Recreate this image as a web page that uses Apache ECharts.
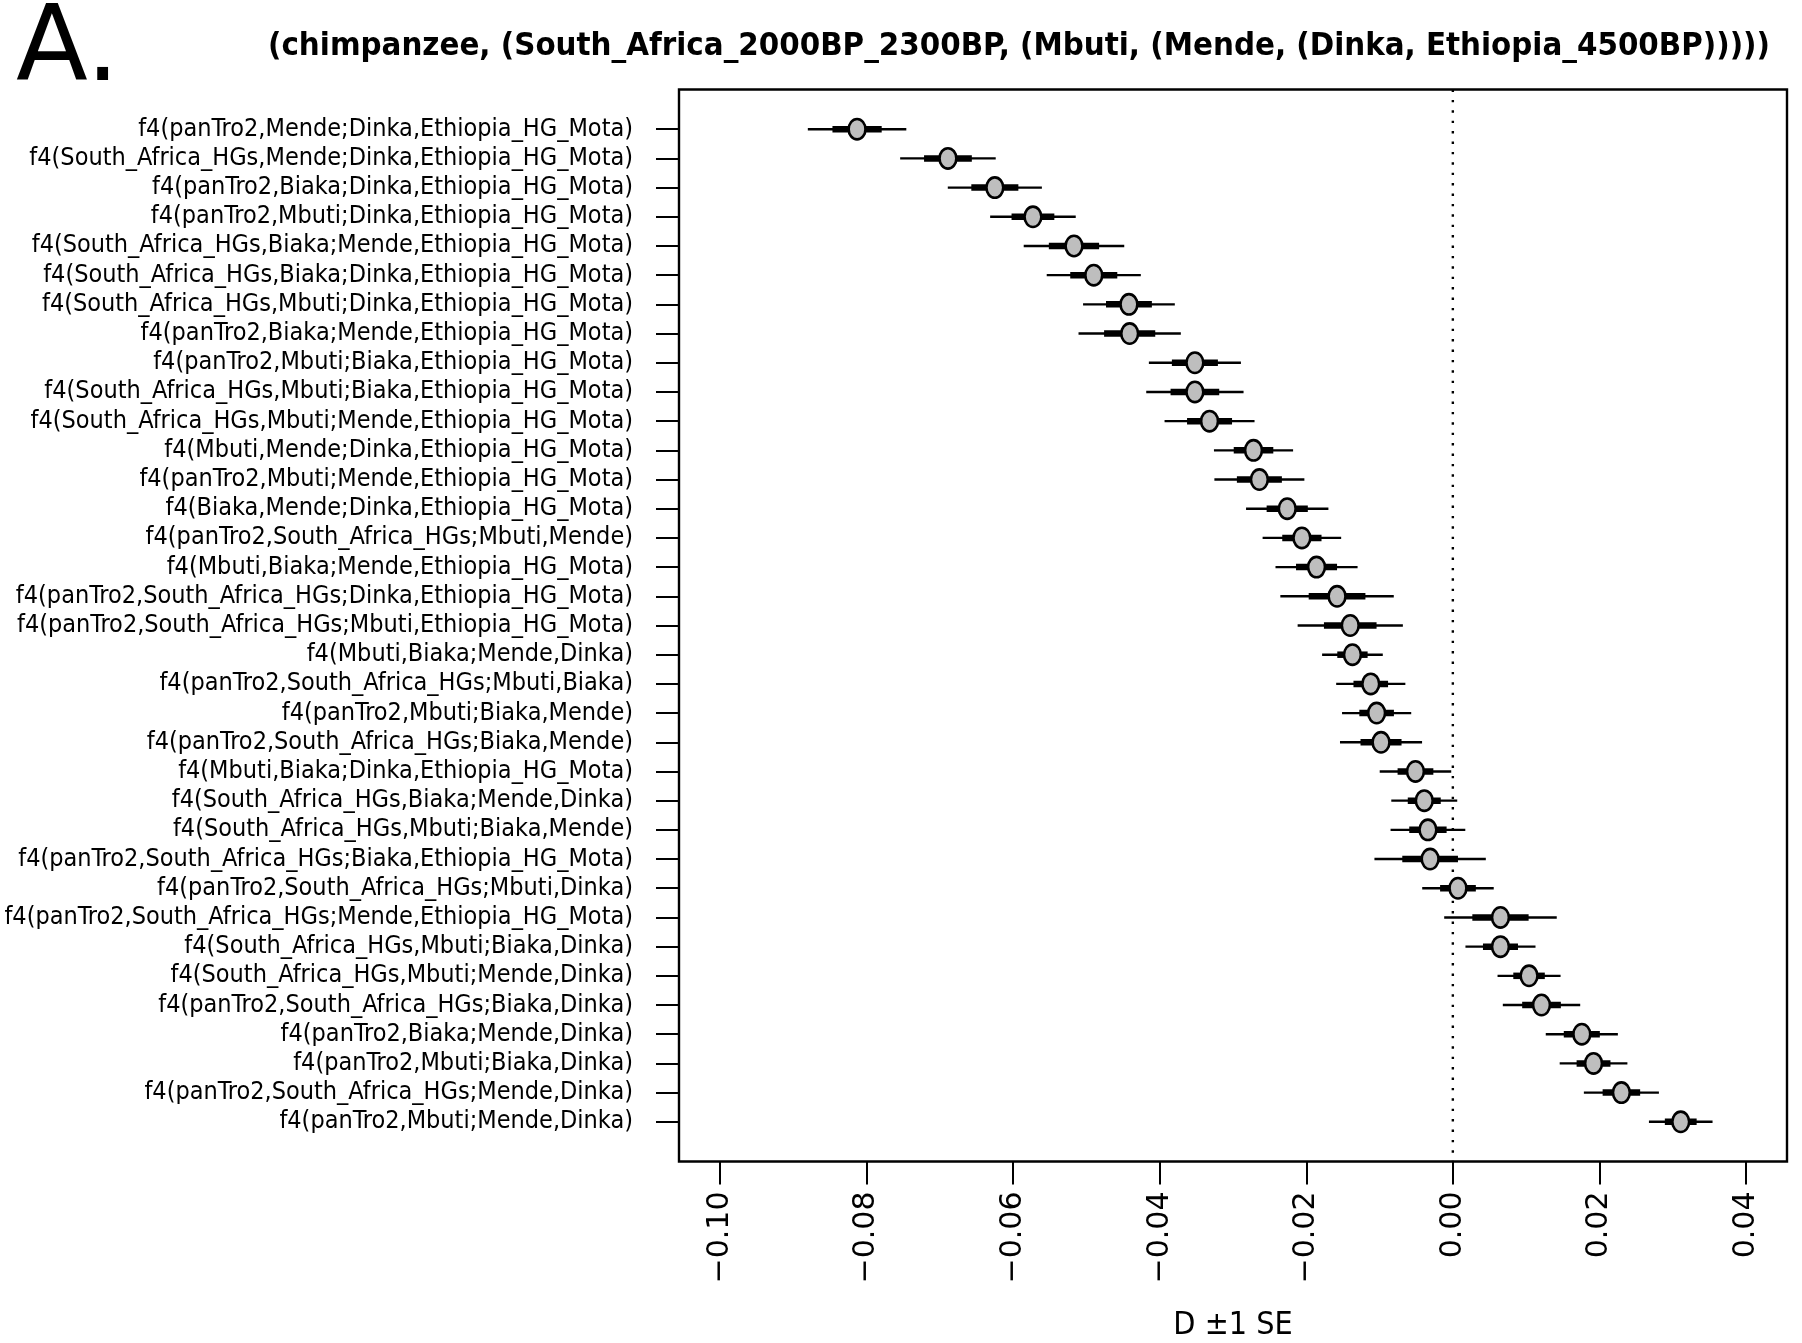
<!DOCTYPE html>
<html><head><meta charset="utf-8">
<script src="https://cdn.jsdelivr.net/npm/echarts@6/dist/echarts.min.js"></script>
<style>html,body{margin:0;padding:0;background:#fff}#c{width:1802px;height:1343px}</style>
</head><body><div id="c"></div>
<script>
const panelLabel = 'A.';
const treeTitle = '(chimpanzee, (South_Africa_2000BP_2300BP, (Mbuti, (Mende, (Dinka, Ethiopia_4500BP)))))';
const xAxisTitle = 'D \u00b11 SE';

const statLabels = [
  'f4(panTro2,Mende;Dinka,Ethiopia_HG_Mota)',
  'f4(South_Africa_HGs,Mende;Dinka,Ethiopia_HG_Mota)',
  'f4(panTro2,Biaka;Dinka,Ethiopia_HG_Mota)',
  'f4(panTro2,Mbuti;Dinka,Ethiopia_HG_Mota)',
  'f4(South_Africa_HGs,Biaka;Mende,Ethiopia_HG_Mota)',
  'f4(South_Africa_HGs,Biaka;Dinka,Ethiopia_HG_Mota)',
  'f4(South_Africa_HGs,Mbuti;Dinka,Ethiopia_HG_Mota)',
  'f4(panTro2,Biaka;Mende,Ethiopia_HG_Mota)',
  'f4(panTro2,Mbuti;Biaka,Ethiopia_HG_Mota)',
  'f4(South_Africa_HGs,Mbuti;Biaka,Ethiopia_HG_Mota)',
  'f4(South_Africa_HGs,Mbuti;Mende,Ethiopia_HG_Mota)',
  'f4(Mbuti,Mende;Dinka,Ethiopia_HG_Mota)',
  'f4(panTro2,Mbuti;Mende,Ethiopia_HG_Mota)',
  'f4(Biaka,Mende;Dinka,Ethiopia_HG_Mota)',
  'f4(panTro2,South_Africa_HGs;Mbuti,Mende)',
  'f4(Mbuti,Biaka;Mende,Ethiopia_HG_Mota)',
  'f4(panTro2,South_Africa_HGs;Dinka,Ethiopia_HG_Mota)',
  'f4(panTro2,South_Africa_HGs;Mbuti,Ethiopia_HG_Mota)',
  'f4(Mbuti,Biaka;Mende,Dinka)',
  'f4(panTro2,South_Africa_HGs;Mbuti,Biaka)',
  'f4(panTro2,Mbuti;Biaka,Mende)',
  'f4(panTro2,South_Africa_HGs;Biaka,Mende)',
  'f4(Mbuti,Biaka;Dinka,Ethiopia_HG_Mota)',
  'f4(South_Africa_HGs,Biaka;Mende,Dinka)',
  'f4(South_Africa_HGs,Mbuti;Biaka,Mende)',
  'f4(panTro2,South_Africa_HGs;Biaka,Ethiopia_HG_Mota)',
  'f4(panTro2,South_Africa_HGs;Mbuti,Dinka)',
  'f4(panTro2,South_Africa_HGs;Mende,Ethiopia_HG_Mota)',
  'f4(South_Africa_HGs,Mbuti;Biaka,Dinka)',
  'f4(South_Africa_HGs,Mbuti;Mende,Dinka)',
  'f4(panTro2,South_Africa_HGs;Biaka,Dinka)',
  'f4(panTro2,Biaka;Mende,Dinka)',
  'f4(panTro2,Mbuti;Biaka,Dinka)',
  'f4(panTro2,South_Africa_HGs;Mende,Dinka)',
  'f4(panTro2,Mbuti;Mende,Dinka)'
];

const dValues = [
  -0.0813, -0.0689, -0.0625, -0.0573, -0.0517, -0.0490, -0.0442, -0.0441,
  -0.0352, -0.0352, -0.0332, -0.0272, -0.0264, -0.0226, -0.0206, -0.0186,
  -0.0158, -0.0140, -0.0137, -0.0112, -0.0104, -0.0098, -0.0051, -0.0039,
  -0.0034, -0.0031, 0.0007, 0.0065, 0.0065, 0.0104, 0.0121, 0.0176,
  0.0192, 0.0230, 0.0311
];

const seValues = [
  0.00336, 0.00326, 0.00321, 0.00292, 0.00343, 0.00321, 0.00313, 0.00349,
  0.00314, 0.00332, 0.00307, 0.00270, 0.00307, 0.00281, 0.00268, 0.00280,
  0.00387, 0.00359, 0.00207, 0.00236, 0.00236, 0.00280, 0.00244, 0.00225,
  0.00255, 0.00380, 0.00244, 0.00384, 0.00239, 0.00215, 0.00264, 0.00246,
  0.00231, 0.00256, 0.00217
];

const xTicks = [-0.10, -0.08, -0.06, -0.04, -0.02, 0.00, 0.02, 0.04];
const refLine = 0;

// axis limits (R style 4% padding)
const xLo = -0.10, xHi = 0.04;
const xPad = (xHi - xLo) * 0.04;
const rowCount = statLabels.length;
const yPad = (rowCount - 1) * 0.04;
const yMin = 1 - yPad, yMax = rowCount + yPad;
const rowPositions = statLabels.map((_, i) => i + 1);

const condensed = "'DejaVu Sans Condensed', 'DejaVu Sans', sans-serif";
const normal = "'DejaVu Sans', sans-serif";

const seriesData = dValues.map((d, i) => [d, i + 1, seValues[i]]);

function renderItem(params, api) {
  const d = api.value(0), r = api.value(1), se = api.value(2);
  const c = api.coord([d, r]);
  const a2 = api.coord([d - 2 * se, r]), b2 = api.coord([d + 2 * se, r]);
  const a1 = api.coord([d - se, r]), b1 = api.coord([d + se, r]);
  return {
    type: 'group',
    children: [
      { type: 'line', shape: { x1: a2[0], y1: c[1], x2: b2[0], y2: c[1] },
        style: { stroke: '#000', lineWidth: 2.4, lineCap: 'butt' } },
      { type: 'line', shape: { x1: a1[0], y1: c[1], x2: b1[0], y2: c[1] },
        style: { stroke: '#000', lineWidth: 6.5, lineCap: 'butt' } },
      { type: 'ellipse', shape: { cx: c[0], cy: c[1], rx: 8.4, ry: 10.2 },
        style: { fill: '#bebebe', stroke: '#000', lineWidth: 2.6 } }
    ]
  };
}

const chart = echarts.init(document.getElementById('c'), null, { renderer: 'canvas' });
chart.setOption({
  animation: false,
  backgroundColor: '#fff',
  graphic: [
    { type: 'text', left: 16, top: 0,
      style: { text: panelLabel, font: "105px " + normal, fill: '#000' } },
    { type: 'text', left: 268, top: 30,
      style: { text: treeTitle, font: "bold 32.7px " + condensed, fill: '#000' } }
  ],
  grid: {
    left: 679, top: 89.5, right: 15, bottom: 181.5,
    outerBoundsMode: 'none', containLabel: false,
    show: true, borderColor: '#000', borderWidth: 2.4, backgroundColor: 'transparent'
  },
  xAxis: {
    type: 'value', min: xLo - xPad, max: xHi + xPad,
    axisLine: { show: false, onZero: false },
    splitLine: { show: false },
    axisTick: { show: true, inside: false, customValues: xTicks, length: 23, lineStyle: { color: '#000', width: 2 } },
    axisLabel: {
      customValues: xTicks, rotate: 90, margin: 30, color: '#000',
      fontSize: 30, fontFamily: normal,
      formatter: v => (v < 0 ? '\u2212' : '') + Math.abs(v).toFixed(2)
    },
    name: xAxisTitle, nameLocation: 'middle', nameGap: 148,
    nameTextStyle: { fontSize: 32, fontFamily: condensed, color: '#000' }
  },
  yAxis: {
    type: 'value', min: yMin, max: yMax, inverse: true,
    axisLine: { show: false, onZero: false },
    splitLine: { show: false },
    axisTick: { show: true, inside: false, customValues: rowPositions, length: 23, lineStyle: { color: '#000', width: 2 } },
    axisLabel: {
      customValues: rowPositions, margin: 46, color: '#000',
      fontSize: 25, fontFamily: condensed,
      formatter: v => statLabels[Math.round(v) - 1] || ''
    }
  },
  series: [
    {
      type: 'line', silent: true, symbol: 'none', z: 1,
      data: [[refLine, yMin], [refLine, yMax]],
      lineStyle: { color: '#000', width: 2.4, type: [2.4, 8] }
    },
    {
      type: 'custom', z: 3, renderItem: renderItem,
      encode: { x: 0, y: 1 },
      data: seriesData
    }
  ]
});
</script></body></html>
